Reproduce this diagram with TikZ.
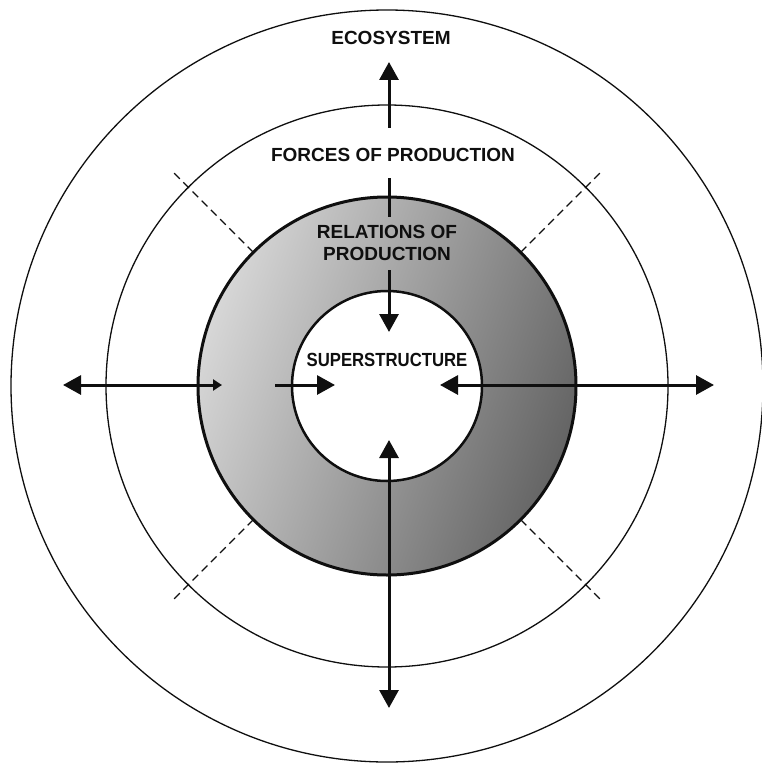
\documentclass[tikz,border=0pt]{standalone}
\usepackage{fontspec}
\setmainfont{Liberation Sans}
\usetikzlibrary{arrows.meta,calc}
\definecolor{inkblack}{RGB}{15,15,15}
\definecolor{stipplelight}{RGB}{215,215,215}
\definecolor{stippledark}{RGB}{100,100,100}
\begin{document}
\begin{tikzpicture}[
  x=1pt,y=-1pt,
  every node/.style={font=\fontsize{19}{22}\selectfont\bfseries,inkblack,inner sep=0pt},
  ringline/.style={draw=inkblack,line width=1.3pt},
  bigline/.style={draw=inkblack,line width=3pt},
  divline/.style={draw=inkblack,line width=1.3pt,dash pattern=on 8pt off 5pt},
  arr/.style={-{Triangle[length=18pt,width=19pt]},line width=3pt,inkblack},
  dblarr/.style={{Triangle[length=18pt,width=19pt]}-{Triangle[length=18pt,width=19pt]},line width=3pt,inkblack},
  smallarr/.style={{Triangle[length=18pt,width=19pt]}-{Triangle[length=9pt,width=11pt]},line width=3pt,inkblack},
]
\useasboundingbox (0,0) rectangle (762,765);
\coordinate (c) at (387,386);

%% ── Rings ────────────────────────────────────────────────
\draw[ringline] (c) circle[radius=376];
\draw[ringline] (c) circle[radius=281];
\shade[even odd rule,left color=stipplelight,right color=stippledark,shading angle=70]
  (c) circle[radius=189] (c) circle[radius=95];
\draw[bigline] (c) circle[radius=189];
\draw[line width=2.5pt,inkblack] (c) circle[radius=95];

%% ── Diagonal dividers ────────────────────────────────────
\foreach \a in {45,135,225,315}
  \draw[divline] ($(c)+(\a:189)$) -- ($(c)+(\a:305)$);

%% ── Labels ───────────────────────────────────────────────
\node (eco) at (391,38) {ECOSYSTEM};
\node (forces) at (393,155) {FORCES OF PRODUCTION};
\node[align=center] (relations) at (387,243) {RELATIONS OF\\PRODUCTION};
\node (super) at (387,360) {\scalebox{0.88}[1]{SUPERSTRUCTURE}};

%% ── Arrow ends ───────────────────────────────────────────
\coordinate (upA) at (389,128);
\coordinate (upB) at (389,62);
\coordinate (topA) at (389,178);
\coordinate (topB) at (389,217);
\coordinate (dnA) at (389,270);
\coordinate (dnB) at (389,332);
\coordinate (botA) at (389,440);
\coordinate (botB) at (389,708);
\coordinate (lfA) at (63,385);
\coordinate (lfB) at (222,385);
\coordinate (liA) at (275,385);
\coordinate (liB) at (335,385);
\coordinate (rtA) at (440,385);
\coordinate (rtB) at (714,385);

%% ── Arrows ───────────────────────────────────────────────
\draw[arr] (upA) -- (upB);
\draw[line width=3pt,inkblack] (topA) -- (topB);
\draw[arr] (dnA) -- (dnB);
\draw[dblarr] (botA) -- (botB);
\draw[smallarr] (lfA) -- (lfB);
\draw[arr] (liA) -- (liB);
\draw[dblarr] (rtA) -- (rtB);

\end{tikzpicture}
\end{document}
